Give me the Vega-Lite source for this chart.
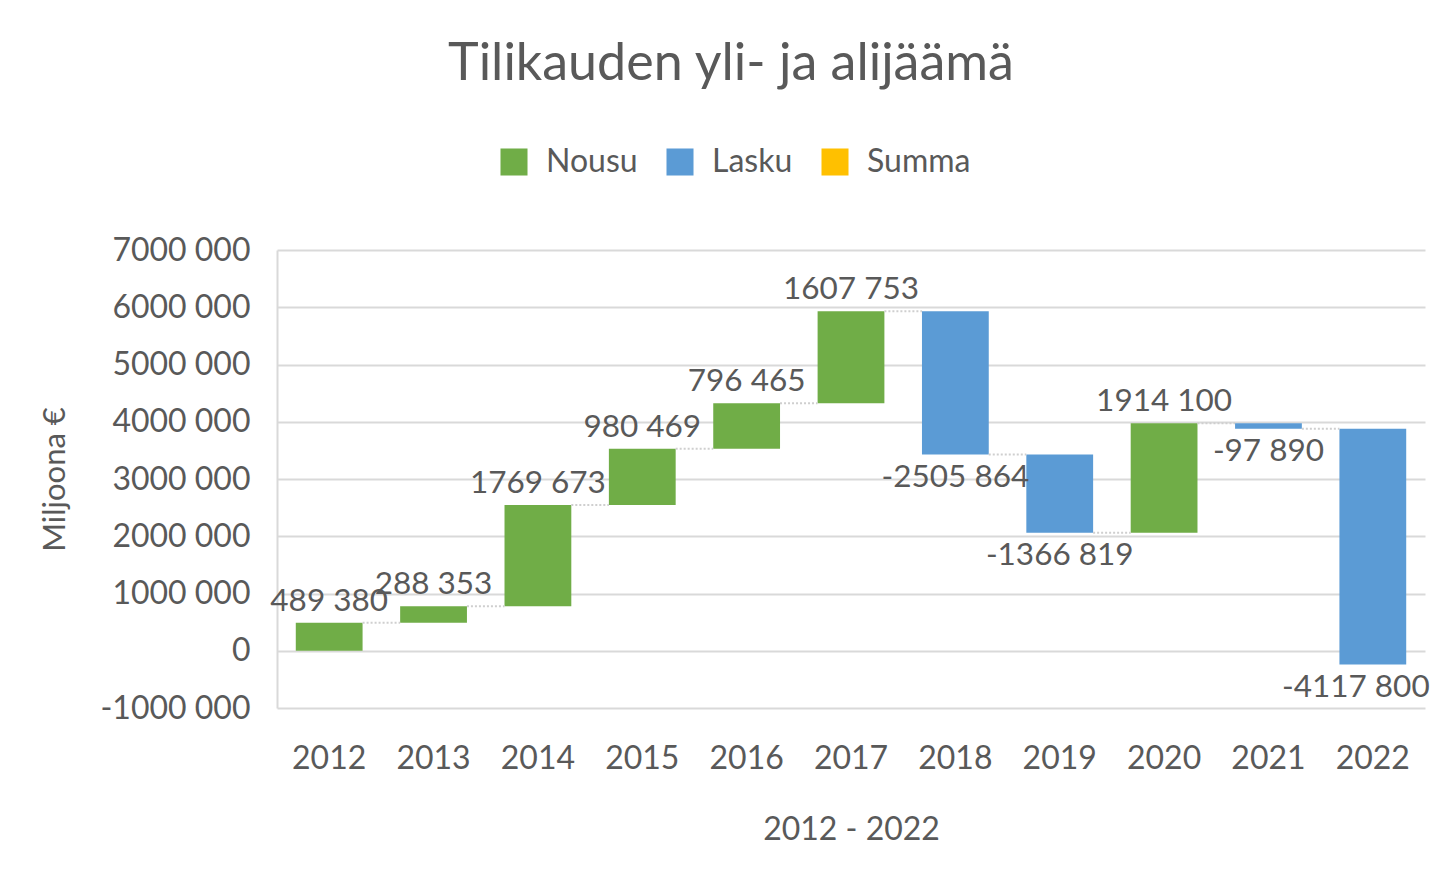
{
  "$schema": "https://vega.github.io/schema/vega-lite/v6.json",
  "autosize": "none",
  "width": 1148,
  "height": 458,
  "padding": {"left": 277, "top": 250, "right": 19, "bottom": 161},
  "background": "white",
  "config": {
    "font": "Lato",
    "view": {"stroke": null},
    "axis": {"labelColor": "#595959", "titleColor": "#595959", "labelFont": "Lato", "titleFont": "Lato"}
  },
  "title": {
    "text": "Tilikauden yli- ja alijäämä",
    "anchor": "middle",
    "frame": "group",
    "dx": -120,
    "offset": 55,
    "font": "Lato",
    "fontSize": 52,
    "fontWeight": "normal",
    "color": "#595959"
  },
  "data": {
    "values": [
      {"year": "2012", "next": "2013", "start": 0, "end": 489380, "type": "Nousu", "label": "489 380"},
      {"year": "2013", "next": "2014", "start": 489380, "end": 777733, "type": "Nousu", "label": "288 353"},
      {"year": "2014", "next": "2015", "start": 777733, "end": 2547406, "type": "Nousu", "label": "1769 673"},
      {"year": "2015", "next": "2016", "start": 2547406, "end": 3527875, "type": "Nousu", "label": "980 469"},
      {"year": "2016", "next": "2017", "start": 3527875, "end": 4324340, "type": "Nousu", "label": "796 465"},
      {"year": "2017", "next": "2018", "start": 4324340, "end": 5932093, "type": "Nousu", "label": "1607 753"},
      {"year": "2018", "next": "2019", "start": 5932093, "end": 3426229, "type": "Lasku", "label": "-2505 864"},
      {"year": "2019", "next": "2020", "start": 3426229, "end": 2059410, "type": "Lasku", "label": "-1366 819"},
      {"year": "2020", "next": "2021", "start": 2059410, "end": 3973510, "type": "Nousu", "label": "1914 100"},
      {"year": "2021", "next": "2022", "start": 3973510, "end": 3875620, "type": "Lasku", "label": "-97 890"},
      {"year": "2022", "next": null, "start": 3875620, "end": -242180, "type": "Lasku", "label": "-4117 800"}
    ]
  },
  "encoding": {
    "x": {
      "field": "year",
      "type": "nominal",
      "sort": null,
      "scale": {"paddingInner": 0.36, "paddingOuter": 0.18},
      "axis": {
        "title": "2012 - 2022",
        "labelAngle": 0,
        "domain": false,
        "ticks": false,
        "labelPadding": 35,
        "labelFontSize": 32,
        "titleFontSize": 32,
        "titleFontWeight": "normal",
        "titlePadding": 40
      }
    }
  },
  "layer": [
    {
      "mark": {"type": "bar"},
      "encoding": {
        "y": {
          "field": "start",
          "type": "quantitative",
          "scale": {"domain": [-1000000, 7000000], "nice": false, "zero": false},
          "axis": {
            "title": "Miljoona €",
            "values": [-1000000, 0, 1000000, 2000000, 3000000, 4000000, 5000000, 6000000, 7000000],
            "labelExpr": "length(toString(datum.value)) > 3 ? slice(toString(datum.value), 0, -3) + ' ' + slice(toString(datum.value), -3) : toString(datum.value)",
            "grid": true,
            "gridColor": "#D9D9D9",
            "gridWidth": 2,
            "domain": true,
            "domainColor": "#D9D9D9",
            "domainWidth": 2,
            "ticks": false,
            "labelPadding": 27,
            "labelFontSize": 32,
            "titleFontSize": 31,
            "titleFontWeight": "normal",
            "titlePadding": 28
          }
        },
        "y2": {"field": "end"},
        "color": {
          "field": "type",
          "type": "nominal",
          "scale": {"domain": ["Nousu", "Lasku", "Summa"], "range": ["#70AD47", "#5B9BD5", "#FFC000"]},
          "legend": {
            "title": null,
            "orient": "none",
            "legendX": 221,
            "legendY": -104,
            "direction": "horizontal",
            "symbolType": "square",
            "symbolSize": 730,
            "symbolStrokeWidth": 0,
            "labelFontSize": 32,
            "labelColor": "#595959",
            "labelFont": "Lato",
            "labelOffset": 16,
            "columnPadding": 26
          }
        }
      }
    },
    {
      "transform": [{"filter": "datum.next != null"}],
      "mark": {"type": "rule", "color": "#CFCFCF", "strokeWidth": 2, "strokeDash": [2, 2]},
      "encoding": {
        "x": {"field": "year", "type": "nominal", "sort": null, "bandPosition": 1},
        "x2": {"field": "next", "bandPosition": 0},
        "y": {"field": "end", "type": "quantitative"}
      }
    },
    {
      "transform": [{"filter": "datum.type == 'Nousu'"}],
      "mark": {"type": "text", "baseline": "middle", "dy": -21, "fontSize": 31.5, "color": "#595959", "font": "Lato"},
      "encoding": {
        "y": {"field": "end", "type": "quantitative"},
        "text": {"field": "label"}
      }
    },
    {
      "transform": [{"filter": "datum.type == 'Lasku' && datum.year != '2022'"}],
      "mark": {"type": "text", "baseline": "middle", "dy": 23, "fontSize": 31.5, "color": "#595959", "font": "Lato"},
      "encoding": {
        "y": {"field": "end", "type": "quantitative"},
        "text": {"field": "label"}
      }
    },
    {
      "transform": [{"filter": "datum.year == '2022'"}],
      "mark": {"type": "text", "baseline": "middle", "dy": 23, "dx": -17, "fontSize": 31.5, "color": "#595959", "font": "Lato"},
      "encoding": {
        "y": {"field": "end", "type": "quantitative"},
        "text": {"field": "label"}
      }
    }
  ]
}
